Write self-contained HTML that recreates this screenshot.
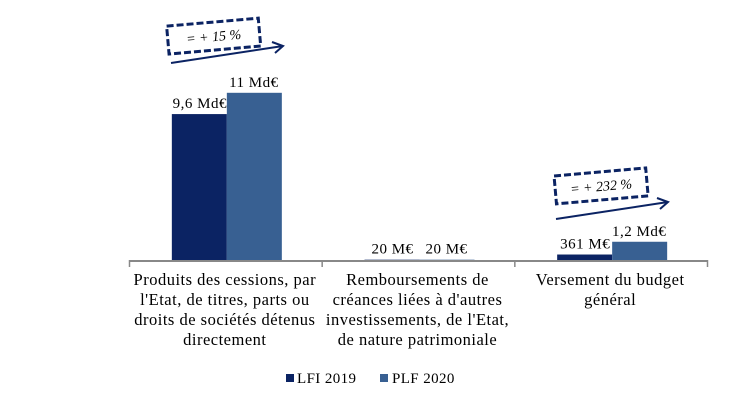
<!DOCTYPE html>
<html><head><meta charset="utf-8"><style>
body{margin:0;background:#fff;}
svg text{font-family:"Liberation Serif",serif;fill:#000;}
</style></head><body>
<svg width="740" height="403">
<g id="plot"></g>
<g>
<g transform="rotate(-5 215 40)">
<rect x="168" y="22" width="92" height="28" fill="none" stroke="#0b2363" stroke-width="3" stroke-dasharray="7,3"/>
<text x="214" y="41" font-size="14" text-anchor="middle" font-style="italic">= + 15 %</text>
</g>
<line x1="171" y1="63" x2="283" y2="46" stroke="#0b2363" stroke-width="2"/>
<polyline points="272,42 283,46 275,53" fill="none" stroke="#0b2363" stroke-width="2"/>
</g>
<g>
<g transform="rotate(-5 600 185)">
<rect x="555" y="172" width="92" height="28" fill="none" stroke="#0b2363" stroke-width="3" stroke-dasharray="7,3"/>
<text x="601" y="191" font-size="14" text-anchor="middle" font-style="italic">= + 232 %</text>
</g>
<line x1="556" y1="219" x2="668" y2="202" stroke="#0b2363" stroke-width="2"/>
<polyline points="657,198 668,202 660,209" fill="none" stroke="#0b2363" stroke-width="2"/>
</g>
<g>
<rect x="286" y="374" width="8" height="8" fill="#0b2363"/>
<text x="297" y="383" font-size="15" letter-spacing="0.4">LFI 2019</text>
<rect x="380" y="374" width="8" height="8" fill="#386092"/>
<text x="392" y="383" font-size="15" letter-spacing="0.4">PLF 2020</text>
</g>
</svg>
<script>
const categories=[["Produits des cessions, par","l'Etat, de titres, parts ou","droits de sociétés détenus","directement"],["Remboursements de","créances liées à d'autres","investissements, de l'Etat,","de nature patrimoniale"],["Versement du budget","général"]];
const lfi=[9.6,0.02,0.361];
const plf=[11,0.02,1.2];
const lfiLabels=["9,6 Md€","20 M€","361 M€"];
const plfLabels=["11 Md€","20 M€","1,2 Md€"];
const NS="http://www.w3.org/2000/svg";
const g=document.getElementById('plot');
const x0=129.5,x1=707.5,base=260,scale=15.2;
const bw=(x1-x0)/categories.length;
const y=v=>base-v*scale;
function mk(t,a){const e=document.createElementNS(NS,t);for(const k in a)e.setAttribute(k,a[k]);g.appendChild(e);return e;}
categories.forEach((c,i)=>{
  const cx=x0+bw*i+bw/2+1;
  const r1=mk('rect',{x:cx-55,y:y(lfi[i]),width:55,height:base-y(lfi[i]),fill:'#0b2363'});
  
  
  const r2=mk('rect',{x:cx,y:y(plf[i]),width:55,height:base-y(plf[i]),fill:'#386092'});
  
  
  const t1=mk('text',{x:cx-27,y:y(lfi[i])-6,'font-size':15,'letter-spacing':0.5,'text-anchor':'middle'});t1.textContent=lfiLabels[i];
  
  
  const t2=mk('text',{x:cx+27,y:y(plf[i])-6,'font-size':15,'letter-spacing':0.5,'text-anchor':'middle'});t2.textContent=plfLabels[i];
  
  
  c.forEach((l,j)=>{const t=mk('text',{x:cx-2,y:285+j*20,'font-size':16.5,'letter-spacing':0.5,'text-anchor':'middle'});t.textContent=l;
    
    });
});
const ax=mk('line',{x1:x0,y1:base+1,x2:x1,y2:base+1,stroke:'#888','stroke-width':2});


for(let i=0;i<=categories.length;i++){const tk=mk('line',{x1:x0+bw*i,y1:base,x2:x0+bw*i,y2:base+7,stroke:'#888','stroke-width':1.5});
  
  }
</script>
</body></html>
